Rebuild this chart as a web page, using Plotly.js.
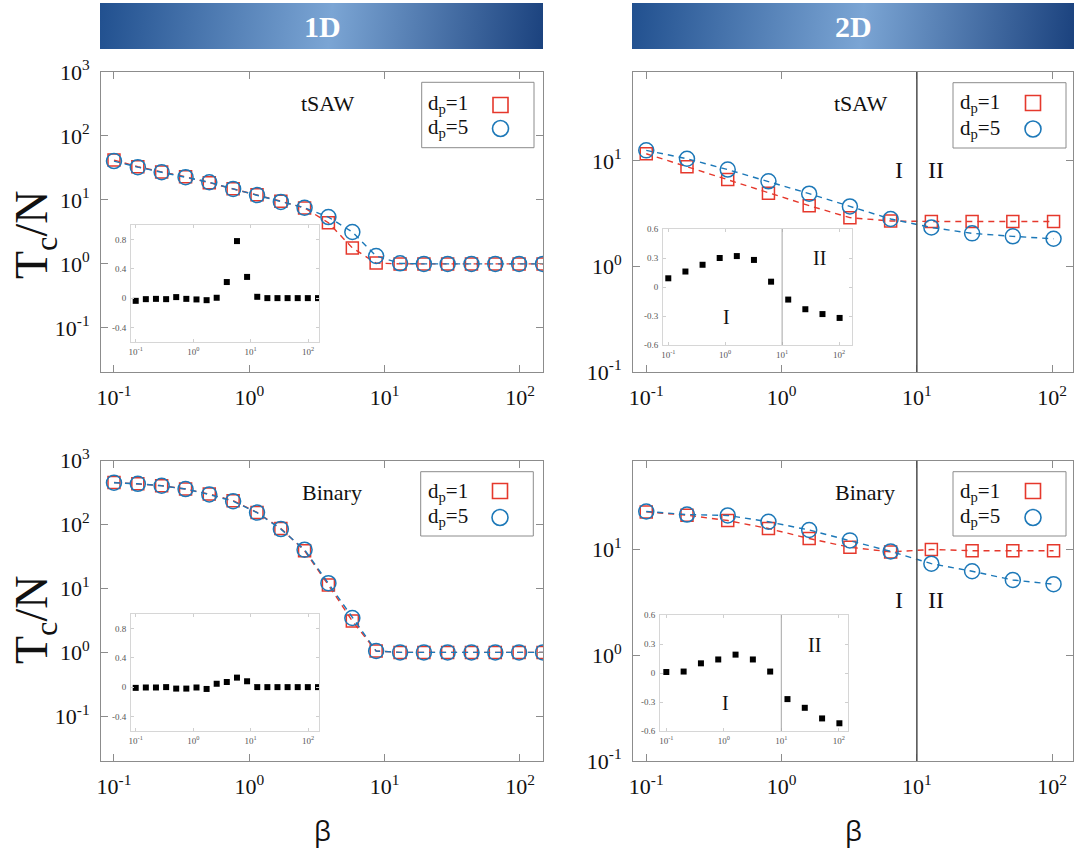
<!DOCTYPE html>
<html>
<head>
<meta charset="utf-8">
<script src="https://cdn.plot.ly/plotly-3.0.1.min.js"></script>
<style>
  html, body { margin: 0; padding: 0; background: #fff; }
  #chart { width: 1074px; height: 848px; }
</style>
</head>
<body>
<div id="chart"></div>
<script>
// ---- data -------------------------------------------------------------
// β grid used in the 1D runs
const beta1D = [0.1, 0.15, 0.225, 0.338, 0.506, 0.759, 1.14, 1.71, 2.56, 3.84,
                5.77, 8.65, 13.0, 19.5, 29.2, 43.8, 65.7, 98.5, 148];
// β grid used in the 2D runs
const beta2D = [0.1, 0.2, 0.4, 0.8, 1.6, 3.2, 6.4, 12.8, 25.6, 51.2, 102.4];

// 1D, tSAW : Tc/N
const tsaw1D_dp1 = [42, 33, 27.4, 23, 18.6, 15, 12.1, 9.55, 7.5, 4.4, 1.78, 1.03, 1, 1, 1, 1, 1, 1, 1];
const tsaw1D_dp5 = [40.5, 32.5, 27.1, 22.7, 18.9, 14.85, 11.9, 9.3, 7.55, 5.4, 3.15, 1.33, 1.02, 1, 1, 1, 1, 1, 1];
const tsaw1D_rel = [-0.037, -0.014, -0.01, -0.014, 0.014, -0.01, -0.018, -0.028, 0.005, 0.22,
                    0.78, 0.29, 0.018, 0, 0, 0, 0, 0, 0];

// 1D, Binary : Tc/N
const bin1D_dp1 = [457, 437, 407, 360, 301, 237, 155, 87, 39, 11.3, 3.1, 1.05, 1, 1, 1, 1, 1, 1, 1];
const bin1D_dp5 = [452, 435, 405, 360, 296, 232, 154, 85, 40.5, 12.1, 3.45, 1.05, 1, 1, 1, 1, 1, 1, 1];
const bin1D_rel = [-0.01, -0.005, -0.005, 0, -0.02, -0.02, -0.005, -0.025, 0.046, 0.07,
                   0.13, 0.08, 0, 0, 0, 0, 0, 0, 0];

// 2D, tSAW : Tc/N
const tsaw2D_dp1 = [11.7, 8.8, 6.66, 4.93, 3.77, 2.9, 2.7, 2.67, 2.67, 2.67, 2.67];
const tsaw2D_dp5 = [12.6, 10.5, 8.28, 6.41, 4.9, 3.71, 2.82, 2.34, 2.06, 1.93, 1.83];
const tsaw2D_rel = [0.09, 0.16, 0.23, 0.30, 0.32, 0.28, 0.055, -0.13, -0.23, -0.28, -0.32];

// 2D, Binary : Tc/N
const bin2D_dp1 = [22.7, 21.1, 18.8, 15.8, 12.7, 10.5, 9.5, 10.0, 9.75, 9.75, 9.75];
const bin2D_dp5 = [22.9, 21.4, 21.0, 18.3, 15.3, 12.2, 9.6, 7.35, 6.23, 5.15, 4.7];
const bin2D_rel = [0.01, 0.015, 0.10, 0.14, 0.19, 0.14, 0.015, -0.27, -0.36, -0.47, -0.52];

// regime boundary
const betaBoundary = 10;

// tick labels
const mainTickVals = [0.1, 1, 10, 100, 1000];
const mainTickText = ['10<sup>-1</sup>', '10<sup>0</sup>', '10<sup>1</sup>', '10<sup>2</sup>', '10<sup>3</sup>'];
const insetTickVals1D = [-0.4, 0, 0.4, 0.8];
const insetTickText1D = ['-0.4', '0', '0.4', '0.8'];
const insetTickVals2D = [-0.6, -0.3, 0, 0.3, 0.6];
const insetTickText2D = ['-0.6', '-0.3', '0', '0.3', '0.6'];

// ---- styling helpers --------------------------------------------------
const W = 1074, H = 848;
const X = px => px / W;
const Y = py => 1 - py / H;
const RED = '#e5382c';
const BLUE = '#1c78b8';
const SERIF = 'Liberation Serif, DejaVu Serif, serif';

function series(x, y, xa, ya, color, symbol, size) {
  return {
    type: 'scatter', mode: 'lines+markers', x: x, y: y, xaxis: xa, yaxis: ya,
    line: { color: color, width: 1.4, dash: '6px,5px' },
    marker: { symbol: symbol, size: size, color: color, line: { color: color, width: 1.5 } },
    showlegend: false, hoverinfo: 'x+y'
  };
}
function insetPts(x, y, xa, ya) {
  return {
    type: 'scatter', mode: 'markers', x: x, y: y, xaxis: xa, yaxis: ya,
    marker: { symbol: 'square', size: 6, color: '#000' },
    showlegend: false, hoverinfo: 'x+y'
  };
}

function mainAxis(domain, range, anchor) {
  return {
    type: 'log', domain: domain, range: range, anchor: anchor,
    showline: true, linecolor: '#8c8c8c', linewidth: 1, mirror: 'ticks',
    ticks: 'inside', ticklen: 7, tickcolor: '#8c8c8c', showgrid: false, zeroline: false,
    tickmode: 'array', tickvals: mainTickVals, ticktext: mainTickText,
    tickfont: { family: SERIF, size: 22, color: '#111' }, ticklabelstandoff: 6
  };
}
function insetX(domain, range, anchor) {
  return {
    type: 'log', domain: domain, range: range, anchor: anchor,
    showline: true, linecolor: '#d6d6d6', linewidth: 1, mirror: 'ticks',
    ticks: 'inside', ticklen: 3, tickcolor: '#cfcfcf', showgrid: false, zeroline: false,
    tickmode: 'array', tickvals: [0.1, 1, 10, 100],
    ticktext: ['10<sup>-1</sup>', '10<sup>0</sup>', '10<sup>1</sup>', '10<sup>2</sup>'],
    tickfont: { family: SERIF, size: 9, color: '#555' }, ticklabelstandoff: 1
  };
}
function insetY(domain, range, anchor, vals, text) {
  return {
    type: 'linear', domain: domain, range: range, anchor: anchor,
    showline: true, linecolor: '#d6d6d6', linewidth: 1, mirror: 'ticks',
    ticks: 'inside', ticklen: 3, tickcolor: '#cfcfcf', showgrid: false, zeroline: false,
    tickmode: 'array', tickvals: vals, ticktext: text,
    tickfont: { family: SERIF, size: 9, color: '#555' }, ticklabelstandoff: 2
  };
}

// ---- traces -----------------------------------------------------------
const data = [
  series(beta1D, tsaw1D_dp1, 'x', 'y', RED, 'square-open', 12),
  series(beta1D, tsaw1D_dp5, 'x', 'y', BLUE, 'circle-open', 15),
  series(beta2D, tsaw2D_dp1, 'x2', 'y2', RED, 'square-open', 12),
  series(beta2D, tsaw2D_dp5, 'x2', 'y2', BLUE, 'circle-open', 15),
  series(beta1D, bin1D_dp1, 'x3', 'y3', RED, 'square-open', 12),
  series(beta1D, bin1D_dp5, 'x3', 'y3', BLUE, 'circle-open', 15),
  series(beta2D, bin2D_dp1, 'x4', 'y4', RED, 'square-open', 12),
  series(beta2D, bin2D_dp5, 'x4', 'y4', BLUE, 'circle-open', 15),
  insetPts(beta1D, tsaw1D_rel, 'x5', 'y5'),
  insetPts(beta2D, tsaw2D_rel, 'x6', 'y6'),
  insetPts(beta1D, bin1D_rel, 'x7', 'y7'),
  insetPts(beta2D, bin2D_rel, 'x8', 'y8')
];

// ---- header bars (gradient) ------------------------------------------
const barSvg =
  "<svg xmlns='http://www.w3.org/2000/svg' width='443' height='46' viewBox='0 0 443 46' preserveAspectRatio='none'>" +
  "<defs><linearGradient id='g' gradientUnits='userSpaceOnUse' x1='0' y1='0' x2='443' y2='46'>" +
  "<stop offset='0' stop-color='#21508f'/>" +
  "<stop offset='0.52' stop-color='#7ba5d4'/>" +
  "<stop offset='1' stop-color='#1b427e'/>" +
  "</linearGradient></defs>" +
  "<rect x='0' y='0' width='443' height='46' fill='url(#g)'/></svg>";
const barSrc = 'data:image/svg+xml;charset=utf-8,' + encodeURIComponent(barSvg);

const images = [
  { source: barSrc, xref: 'paper', yref: 'paper', x: X(100), y: Y(3), sizex: 443 / W, sizey: 46 / H,
    xanchor: 'left', yanchor: 'top', sizing: 'stretch', layer: 'below' },
  { source: barSrc, xref: 'paper', yref: 'paper', x: X(632), y: Y(3), sizex: 442 / W, sizey: 46 / H,
    xanchor: 'left', yanchor: 'top', sizing: 'stretch', layer: 'below' }
];

// ---- annotations ------------------------------------------------------
function txt(text, px, py, size, opts) {
  return Object.assign({
    text: text, xref: 'paper', yref: 'paper', x: X(px), y: Y(py),
    xanchor: 'center', yanchor: 'middle', showarrow: false,
    font: { family: SERIF, size: size, color: '#111' }
  }, opts || {});
}
const HEAD = { family: SERIF, size: 30, color: '#ffffff', weight: 'bold' };
const SANS = { family: 'Open Sans, DejaVu Sans, sans-serif', size: 27, color: '#111' };
const annotations = [
  txt('1D', 322, 27, 30, { font: HEAD }),
  txt('2D', 853, 27, 30, { font: HEAD }),
  txt('tSAW', 327, 104, 22),
  txt('tSAW', 860, 103, 22),
  txt('Binary', 332, 492, 22),
  txt('Binary', 865, 492, 22),
  // legend labels
  txt('d<sub>p</sub>=1', 426, 104, 21, { xanchor: 'left' }),
  txt('d<sub>p</sub>=5', 426, 128, 21, { xanchor: 'left' }),
  txt('d<sub>p</sub>=1', 958, 103, 21, { xanchor: 'left' }),
  txt('d<sub>p</sub>=5', 958, 129, 21, { xanchor: 'left' }),
  txt('d<sub>p</sub>=1', 426, 492, 21, { xanchor: 'left' }),
  txt('d<sub>p</sub>=5', 426, 517, 21, { xanchor: 'left' }),
  txt('d<sub>p</sub>=1', 958, 492, 21, { xanchor: 'left' }),
  txt('d<sub>p</sub>=5', 958, 517, 21, { xanchor: 'left' }),
  // regime labels
  txt('I', 899, 170, 24), txt('II', 936, 170, 24),
  txt('I', 899, 600, 24), txt('II', 936, 600, 24),
  txt('I', 726, 317, 20), txt('II', 819, 258, 20),
  txt('I', 725, 703, 20), txt('II', 814, 645, 20),
  // axis titles
  txt('T<sub>c</sub>/N', 35, 235, 46, { textangle: -90 }),
  txt('T<sub>c</sub>/N', 35, 620, 46, { textangle: -90 }),
  txt('β', 322, 830, 27, { font: SANS }),
  txt('β', 853, 830, 27, { font: SANS })
];

// ---- shapes -----------------------------------------------------------
function box(x0, y0, x1, y1) {
  return { type: 'rect', xref: 'paper', yref: 'paper', x0: X(x0), x1: X(x1), y0: Y(y1), y1: Y(y0),
           line: { color: '#8c8c8c', width: 1 }, fillcolor: '#ffffff', layer: 'above' };
}
function glyph(kind, cx, cy, color, half) {
  return { type: kind, xref: 'paper', yref: 'paper', xsizemode: 'pixel', ysizemode: 'pixel',
           xanchor: X(cx), yanchor: Y(cy), x0: -half, x1: half, y0: -half, y1: half,
           line: { color: color, width: 1.6 }, fillcolor: 'rgba(0,0,0,0)' };
}
function vline(xa, ya, color, width) {
  return { type: 'line', xref: xa, yref: ya + ' domain', x0: betaBoundary, x1: betaBoundary,
           y0: 0, y1: 1, line: { color: color, width: width } };
}
function zeroLine(xa, ya) {
  return { type: 'line', xref: xa + ' domain', yref: ya, x0: 0, x1: 1, y0: 0, y1: 0,
           line: { color: '#9a9a9a', width: 1.4, dash: '3px,4px' }, layer: 'below' };
}
const shapes = [
  box(421.7, 82.3, 534, 147.7),
  box(953, 82.7, 1066, 148),
  box(420.7, 471.7, 533.3, 536),
  box(953, 471.7, 1066, 536),
  glyph('rect', 500.5, 105, RED, 7.5), glyph('circle', 500.5, 128.5, BLUE, 8),
  glyph('rect', 1033, 103, RED, 7.5), glyph('circle', 1033, 129, BLUE, 8),
  glyph('rect', 500, 491, RED, 7.5), glyph('circle', 500, 517.5, BLUE, 8),
  glyph('rect', 1033, 491, RED, 7.5), glyph('circle', 1033, 517.5, BLUE, 8),
  vline('x2', 'y2', '#4d4d4d', 1.5),
  vline('x4', 'y4', '#4d4d4d', 1.5),
  vline('x6', 'y6', '#a6a6a6', 1),
  vline('x8', 'y8', '#a6a6a6', 1),
  zeroLine('x5', 'y5'), zeroLine('x6', 'y6'), zeroLine('x7', 'y7'), zeroLine('x8', 'y8')
];

// ---- layout -----------------------------------------------------------
const leftDom = [X(101), X(543)];
const rightDom = [X(633), X(1073)];
const topDom = [Y(372), Y(72)];
const botDom = [Y(761), Y(460.7)];

const layout = {
  width: W, height: H,
  margin: { l: 0, r: 0, t: 0, b: 0 },
  paper_bgcolor: '#ffffff', plot_bgcolor: '#ffffff',
  showlegend: false,
  xaxis: mainAxis(leftDom, [-1.096, 2.17], 'y'),
  yaxis: mainAxis(topDom, [-1.69, 3], 'x'),
  xaxis2: mainAxis(rightDom, [-1.098, 2.154], 'y2'),
  yaxis2: mainAxis(topDom, [-1, 1.843], 'x2'),
  xaxis3: mainAxis(leftDom, [-1.096, 2.17], 'y3'),
  yaxis3: mainAxis(botDom, [-1.70, 3], 'x3'),
  xaxis4: mainAxis(rightDom, [-1.098, 2.154], 'y4'),
  yaxis4: mainAxis(botDom, [-1, 1.84], 'x4'),
  xaxis5: insetX([X(131), X(319)], [-1.082, 2.188], 'y5'),
  yaxis5: insetY([Y(342), Y(225)], [-0.6, 1.0], 'x5', insetTickVals1D, insetTickText1D),
  xaxis6: insetX([X(663), X(852)], [-1.093, 2.228], 'y6'),
  yaxis6: insetY([Y(345), Y(229)], [-0.6, 0.6], 'x6', insetTickVals2D, insetTickText2D),
  xaxis7: insetX([X(131), X(319)], [-1.082, 2.188], 'y7'),
  yaxis7: insetY([Y(731), Y(614)], [-0.6, 1.0], 'x7', insetTickVals1D, insetTickText1D),
  xaxis8: insetX([X(660), X(848)], [-1.11, 2.16], 'y8'),
  yaxis8: insetY([Y(731), Y(615)], [-0.6, 0.6], 'x8', insetTickVals2D, insetTickText2D),
  images: images,
  annotations: annotations,
  shapes: shapes
};

Plotly.newPlot('chart', data, layout, { staticPlot: true, displayModeBar: false });
</script>
</body>
</html>
